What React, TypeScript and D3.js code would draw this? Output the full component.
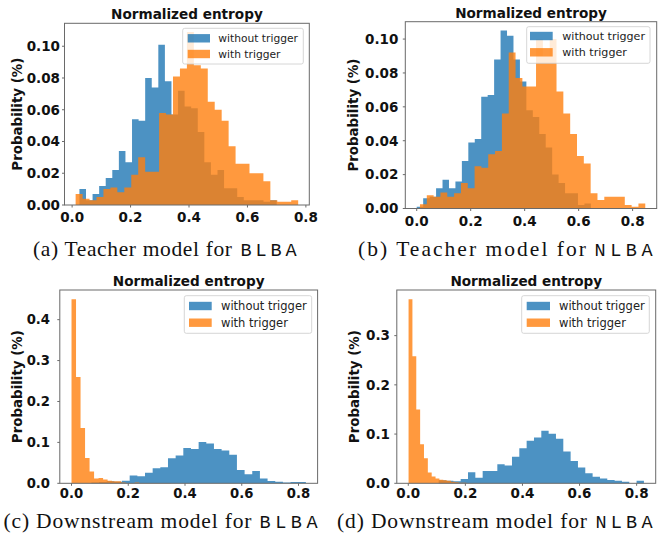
import React, { useEffect, useRef } from 'react';
import * as d3 from 'd3';

// ---- data (bin start, bin width, heights) ----
const aBlueStart = 0.025;
const aBlueWidth = 0.0225;
const aBlue = [0.010, 0.003, 0.007, 0.012, 0.017, 0.022, 0.034, 0.027, 0.054, 0.053, 0.080, 0.074, 0.101, 0.078, 0.057, 0.072, 0.062, 0.061, 0.046, 0.027, 0.019, 0.022, 0.0105, 0.0105, 0.005, 0.003, 0.003, 0.003, 0.002, 0.003];
const aOrangeStart = 0.012;
const aOrangeWidth = 0.0238;
const aOrange = [0.007, 0.004, 0.003, 0.005, 0.010, 0.011, 0.008, 0.011, 0.019, 0.030, 0.021, 0.021, 0.058, 0.057, 0.081, 0.086, 0.109, 0.088, 0.086, 0.065, 0.060, 0.053, 0.037, 0.026, 0.026, 0.020, 0.020, 0.015, 0.003, 0.002, 0.002, 0.003];

const bBlueStart = 0.0;
const bBlueWidth = 0.0239;
const bBlue = [0.001, 0.006, 0.007, 0.012, 0.017, 0.012, 0.016, 0.028, 0.039, 0.041, 0.066, 0.067, 0.088, 0.105, 0.102, 0.088, 0.075, 0.058, 0.054, 0.044, 0.036, 0.020, 0.015, 0.009, 0.009, 0.002, 0.003];
const bOrangeStart = 0.012;
const bOrangeWidth = 0.0253;
const bOrange = [0.0025, 0.0078, 0.007, 0.0095, 0.007, 0.009, 0.015, 0.012, 0.025, 0.024, 0.032, 0.034, 0.056, 0.092, 0.077, 0.072, 0.072, 0.100, 0.090, 0.100, 0.069, 0.056, 0.044, 0.031, 0.0265, 0.009, 0.005, 0.007, 0.007, 0.007, 0.002, 0.001, 0.003];

const cBlueStart = 0.070;
const cBlueWidth = 0.027;
const cBlue = [0.002, 0.003, 0.005, 0.004, 0.006, 0.019, 0.017, 0.026, 0.037, 0.039, 0.0615, 0.068, 0.086, 0.084, 0.101, 0.0975, 0.084, 0.080, 0.0696, 0.0327, 0.022, 0.030, 0.012, 0.0057, 0.004, 0.002, 0.003, 0.003];
const cOrangeStart = 0.0;
const cOrangeWidth = 0.0159;
const cOrange = [0.45, 0.26, 0.135, 0.062, 0.029, 0.012, 0.013, 0.009, 0.006, 0.005, 0.005, 0.002, 0.001, 0.001, 0.002, 0.001, 0.001, 0.001, 0.001, 0.001, 0.001, 0.001];

const dBlueStart = 0.1065;
const dBlueWidth = 0.02568;
const dBlue = [0.006, 0.005, 0.004, 0.0088, 0.0224, 0.0115, 0.025, 0.025, 0.0388, 0.036, 0.054, 0.0714, 0.0863, 0.093, 0.107, 0.1006, 0.0904, 0.0645, 0.0455, 0.032, 0.0204, 0.0135, 0.010, 0.0067, 0.005, 0.003, 0.0, 0.005];
const dOrangeStart = 0.001;
const dOrangeWidth = 0.0135;
const dOrange = [0.374, 0.258, 0.150, 0.0795, 0.051, 0.022, 0.014, 0.010, 0.007, 0.006, 0.005, 0.003, 0.002, 0.001, 0.001];

const xTicks = [0, 0.2, 0.4, 0.6, 0.8];
const topYTicks = [0, 0.02, 0.04, 0.06, 0.08, 0.1];
const cYTicks = [0, 0.1, 0.2, 0.3, 0.4];
const dYTicks = [0, 0.1, 0.2, 0.3];
const seriesLabels = ['without trigger', 'with trigger'];
const titleText = 'Normalized entropy';
const yLabelText = 'Probability (%)';
const captionTexts = ['(a) Teacher model for', '(b) Teacher model for', '(c) Downstream model for', '(d) Downstream model for'];
const captionCodes = ['BLBA', 'NLBA', 'BLBA', 'NLBA'];

const BLUE = '#1f77b4';
const ORANGE = '#ff7f0e';
const SPINE = '#6a6a6a';

const panels = [
  {
    left: 64.5, right: 309.3, top: 23.3, bottom: 205,
    blue: { start: aBlueStart, width: aBlueWidth, values: aBlue },
    orange: { start: aOrangeStart, width: aOrangeWidth, values: aOrange },
    yTicks: topYTicks, yFmt: '.2f', labelRight: 60, yLabelX: 22, titleY: 19, xLabelY: 221.7, tickFont: 13.5,
    legend: { x: 182.7, y: 28.3, w: 120.6, h: 35.7, patchX: 187.7, patchW: 22.3, textX: 218.3, rows: [38.3, 54], font: 10.7 },
  },
  {
    left: 405.3, right: 656.7, top: 21.7, bottom: 208.5,
    blue: { start: bBlueStart, width: bBlueWidth, values: bBlue },
    orange: { start: bOrangeStart, width: bOrangeWidth, values: bOrange },
    yTicks: topYTicks, yFmt: '.2f', labelRight: 398.3, yLabelX: 357.5, titleY: 17.5, xLabelY: 226.3, tickFont: 13.5,
    legend: { x: 526.7, y: 26.7, w: 123.3, h: 36.6, patchX: 530, patchW: 22.7, textX: 562.3, rows: [36, 52.3], font: 11.1 },
  },
  {
    left: 59.8, right: 317.6, top: 290, bottom: 483.3,
    blue: { start: cBlueStart, width: cBlueWidth, values: cBlue },
    orange: { start: cOrangeStart, width: cOrangeWidth, values: cOrange },
    yTicks: cYTicks, yFmt: '.1f', labelRight: 50, yLabelX: 22, titleY: 285.5, xLabelY: 498, tickFont: 13.2,
    legend: { x: 184.3, y: 295.7, w: 127.4, h: 37.6, patchX: 189, patchW: 22.7, textX: 221, rows: [306, 322.7], font: 11.5 },
  },
  {
    left: 396.8, right: 655.7, top: 290, bottom: 483.3,
    blue: { start: dBlueStart, width: dBlueWidth, values: dBlue },
    orange: { start: dOrangeStart, width: dOrangeWidth, values: dOrange },
    yTicks: dYTicks, yFmt: '.1f', labelRight: 390, yLabelX: 359, titleY: 285.5, xLabelY: 498, tickFont: 13.5,
    legend: { x: 521.7, y: 295.7, w: 127.6, h: 37.6, patchX: 526.7, patchW: 23.3, textX: 559, rows: [306, 322.7], font: 11.5 },
  },
];

// caption placement: serif part x + target width, mono part x + width, baseline
const captionBoxes = [
  { sx: 33, sw: 199, mx: 240.5, mw: 56, y: 255.5 },
  { sx: 358, sw: 228, mx: 594.5, mw: 58, y: 255.5 },
  { sx: 3.5, sw: 248, mx: 259.5, mw: 58, y: 528 },
  { sx: 337, sw: 250, mx: 595.5, mw: 57, y: 528 },
];
const MONO_SIZE = 18.5;

type Hist = { start: number; width: number; values: number[] };

export default function App() {
  const ref = useRef<SVGSVGElement>(null);

  useEffect(() => {
    const svg = d3.select(ref.current);
    svg.selectAll('*').remove();

    panels.forEach((p) => {
      const series: Hist[] = [p.blue, p.orange];
      const lo = d3.min(series, (s) => s.start) as number;
      const hi = d3.max(series, (s) => s.start + s.width * s.values.length) as number;
      const pad = (hi - lo) * 0.05;
      const yMax = (d3.max(series, (s) => d3.max(s.values) as number) as number) * 1.05;

      const x = d3.scaleLinear().domain([lo - pad, hi + pad]).range([p.left, p.right]);
      const y = d3.scaleLinear().domain([0, yMax]).range([p.bottom, p.top]);

      const g = svg.append('g');

      const area = d3
        .area<[number, number]>()
        .curve(d3.curveStepAfter)
        .x((d) => x(d[0]))
        .y0(y(0))
        .y1((d) => y(d[1]));

      [
        { s: p.blue, c: BLUE },
        { s: p.orange, c: ORANGE },
      ].forEach(({ s, c }) => {
        const pts: [number, number][] = s.values.map((v, i) => [s.start + i * s.width, v]);
        pts.push([s.start + s.values.length * s.width, s.values[s.values.length - 1]]);
        g.append('path').attr('d', area(pts)).attr('fill', c).attr('fill-opacity', 0.8);
      });

      // spines
      g.append('rect')
        .attr('x', p.left)
        .attr('y', p.top)
        .attr('width', p.right - p.left)
        .attr('height', p.bottom - p.top)
        .attr('fill', 'none')
        .attr('stroke', SPINE)
        .attr('stroke-width', 1);

      // x ticks
      xTicks.forEach((t) => {
        g.append('line')
          .attr('x1', x(t)).attr('x2', x(t))
          .attr('y1', p.bottom).attr('y2', p.bottom + 2.5)
          .attr('stroke', SPINE);
        g.append('text')
          .attr('x', x(t))
          .attr('y', p.xLabelY)
          .attr('text-anchor', 'middle')
          .attr('font-family', 'DejaVu Sans')
          .attr('font-weight', 'bold')
          .attr('font-size', p.tickFont)
          .attr('fill', '#111')
          .text(d3.format('.1f')(t));
      });

      // y ticks
      p.yTicks.forEach((t) => {
        g.append('line')
          .attr('x1', p.left - 2.5).attr('x2', p.left)
          .attr('y1', y(t)).attr('y2', y(t))
          .attr('stroke', SPINE);
        g.append('text')
          .attr('x', p.labelRight)
          .attr('y', y(t))
          .attr('dy', '0.36em')
          .attr('text-anchor', 'end')
          .attr('font-family', 'DejaVu Sans')
          .attr('font-weight', 'bold')
          .attr('font-size', p.tickFont)
          .attr('fill', '#111')
          .text(d3.format(p.yFmt)(t));
      });

      // y label
      g.append('text')
        .attr('transform', `translate(${p.yLabelX},${(p.top + p.bottom) / 2}) rotate(-90)`)
        .attr('text-anchor', 'middle')
        .attr('font-family', 'DejaVu Sans')
        .attr('font-weight', 'bold')
        .attr('font-size', 13.4)
        .attr('fill', '#111')
        .text(yLabelText);

      // title
      g.append('text')
        .attr('x', (p.left + p.right) / 2)
        .attr('y', p.titleY)
        .attr('text-anchor', 'middle')
        .attr('font-family', 'DejaVu Sans')
        .attr('font-weight', 'bold')
        .attr('font-size', 13.6)
        .attr('fill', '#111')
        .text(titleText);

      // legend
      const L = p.legend;
      g.append('rect')
        .attr('x', L.x).attr('y', L.y)
        .attr('width', L.w).attr('height', L.h)
        .attr('rx', 2)
        .attr('fill', '#fff').attr('fill-opacity', 0.8)
        .attr('stroke', '#cccccc').attr('stroke-width', 0.8);
      [BLUE, ORANGE].forEach((c, i) => {
        g.append('rect')
          .attr('x', L.patchX)
          .attr('y', L.rows[i] - 4.2)
          .attr('width', L.patchW)
          .attr('height', 8.4)
          .attr('fill', c)
          .attr('fill-opacity', 0.8);
        g.append('text')
          .attr('x', L.textX)
          .attr('y', L.rows[i])
          .attr('dy', '0.36em')
          .attr('font-family', 'DejaVu Sans')
          .attr('font-size', L.font)
          .attr('fill', '#222')
          .text(seriesLabels[i]);
      });
    });

    // sub-captions
    captionBoxes.forEach((c, i) => {
      svg.append('text')
        .attr('x', c.sx)
        .attr('y', c.y)
        .attr('font-family', 'Liberation Serif')
        .attr('font-size', 21.5)
        .attr('textLength', c.sw)
        .attr('lengthAdjust', 'spacing')
        .attr('fill', '#111')
        .text(captionTexts[i]);
      const code = captionCodes[i];
      const spacing = (c.mw - code.length * 0.6 * MONO_SIZE) / (code.length - 1);
      const t = svg.append('text')
        .attr('y', c.y)
        .attr('font-family', 'Liberation Mono')
        .attr('font-size', MONO_SIZE)
        .attr('fill', '#111');
      // place each letter on its own so no spacing trails past the last one
      code.split('').forEach((ch, k) => {
        t.append('tspan')
          .attr('x', c.mx + k * (0.6 * MONO_SIZE + spacing))
          .text(ch);
      });
    });
  }, []);

  return (
    <svg
      ref={ref}
      width={661}
      height={539}
      style={{ position: 'absolute', left: 0, top: 0, background: '#fff' }}
    />
  );
}
